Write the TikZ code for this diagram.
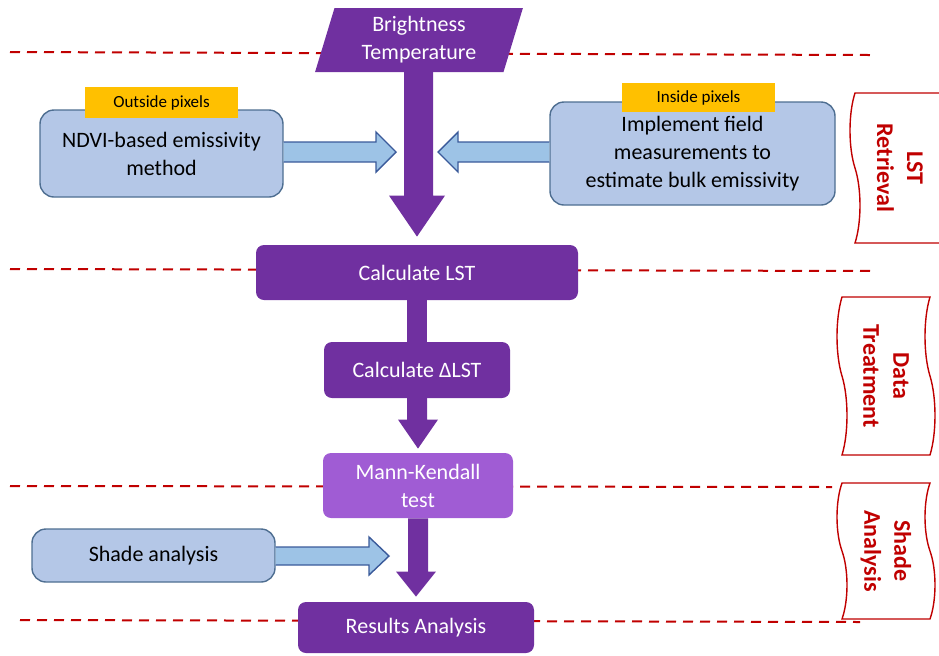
\documentclass[tikz,border=0pt]{standalone}
\usepackage{fontspec}
\setmainfont{Carlito}
\usetikzlibrary{shapes.geometric,shapes.symbols,calc}

\definecolor{lstpurple}{HTML}{7030A0}
\definecolor{mkpurple}{HTML}{A05CD4}
\definecolor{boxblue}{HTML}{B4C7E7}
\definecolor{boxedge}{HTML}{4E6E91}
\definecolor{arrowblue}{HTML}{9DC3E6}
\definecolor{arrowedge}{HTML}{3A5A9A}
\definecolor{tagorange}{HTML}{FFC000}
\definecolor{sepred}{HTML}{C00000}

\begin{document}
\begin{tikzpicture}[x=0.5pt, y=-0.5pt,
purple_box/.style={rectangle, rounded corners=4pt, fill=lstpurple, text=white, inner sep=2pt, align=center, font=\fontsize{11}{14}\selectfont},
blue_box/.style={rectangle, rounded corners=7pt, draw=boxedge, line width=0.7pt, fill=boxblue, inner sep=2pt, align=center, font=\fontsize{11}{14}\selectfont},
tag_box/.style={rectangle, fill=tagorange, inner sep=1pt, font=\fontsize{8.5}{10}\selectfont},
side_tape/.style={tape, tape bend top=in and out, tape bend bottom=in and out, tape bend height=5pt, draw=sepred, line width=0.7pt, fill=white, text=sepred, rotate=-90, align=center, font=\fontsize{12}{15}\selectfont\bfseries},
separator/.style={sepred, line width=1pt, dash pattern=on 5pt off 3.5pt},
purple_arrow/.style={fill=lstpurple},
blue_arrow/.style={fill=arrowblue, draw=arrowedge, line width=0.7pt, line join=miter}
]

\clip (0,0) rectangle (939,655);

% separators
\draw[separator] (10,52) -- (870,55);
\draw[separator] (10,269) -- (875,271);
\draw[separator] (10,486) -- (832,487);
\draw[separator] (20,620) -- (860,622);

% side labels
\node[side_tape, minimum width=75pt, minimum height=50pt](retrieval) at (900,168) {LST\\Retrieval};
\node[side_tape, minimum width=79pt, minimum height=49pt](treatment) at (886,376) {Data\\Treatment};
\node[side_tape, minimum width=68pt, minimum height=49pt](shading) at (886,551) {Shade\\Analysis};

% main flow
\node[trapezium, trapezium left angle=75, trapezium right angle=105, trapezium stretches=true, minimum width=104pt, minimum height=32pt, fill=lstpurple, text=white, align=center, inner sep=1pt, font=\fontsize{11}{14}\selectfont](bt) at (419,40) {Brightness\\Temperature};

\node[blue_box, minimum width=121.5pt, minimum height=43.5pt](ndvi) at (161.5,153.5) {NDVI-based emissivity\\method};
\node[tag_box, minimum width=76.5pt, minimum height=15.5pt](outside) at (161.5,102.5) {Outside pixels};

\node[blue_box, minimum width=142.5pt, minimum height=51.5pt](field) at (692.5,153.5) {Implement field\\measurements to\\estimate bulk emissivity};
\node[tag_box, minimum width=76.5pt, minimum height=14.5pt](inside) at (698.5,97.5) {Inside pixels};

\node[purple_box, minimum width=161pt, minimum height=27.5pt](lst) at (417,272.5) {Calculate LST};
\node[purple_box, minimum width=93pt, minimum height=28pt](dlst) at (417,370) {Calculate ΔLST};
\node[purple_box, fill=mkpurple, minimum width=95pt, minimum height=32.5pt](mk) at (418,485.5) {Mann-Kendall\\test};
\node[purple_box, minimum width=118pt, minimum height=25.5pt](res) at (416,627.5) {Results Analysis};

\node[blue_box, minimum width=121.5pt, minimum height=26.5pt](shade) at (153.5,555.5) {Shade analysis};

% block arrows
\coordinate (ndvitip) at (396,152);
\coordinate (fieldtip) at (438,152);
\coordinate (shadetip) at (389,556);

\fill[purple_arrow] ($(bt.south)+(-15,-3)$) |- ($(lst.north)+(-28,-49)$) -- ($(lst.north)+(0,-8)$) -- ($(lst.north)+(28,-49)$) -| ($(bt.south)+(14,-3)$) -- cycle;
\fill[purple_arrow] ($(lst.south)+(-10,-2)$) rectangle ($(dlst.north)+(10,2)$);
\fill[purple_arrow] ($(dlst.south)+(-10,-2)$) |- ($(mk.north)+(-20,-33)$) -- ($(mk.north)+(0,-4)$) -- ($(mk.north)+(20,-33)$) -| ($(dlst.south)+(10,-2)$) -- cycle;
\fill[purple_arrow] (mk.south) ++(-10,0) |- ($(res.north)+(-20,-30)$) -- ($(res.north)+(0,-5)$) -- ($(res.north)+(20,-30)$) -| ($(mk.south)+(10,0)$) -- cycle;

\draw[blue_arrow] (ndvi.east |- ndvitip) ++(0,-10) -- ($(ndvitip)+(-20,-10)$) -- ($(ndvitip)+(-20,-20)$) -- (ndvitip) -- ($(ndvitip)+(-20,20)$) -- ($(ndvitip)+(-20,10)$) -- ($(ndvi.east |- ndvitip)+(0,10)$);
\draw[blue_arrow] (field.west |- fieldtip) ++(0,-10) -- ($(fieldtip)+(20,-10)$) -- ($(fieldtip)+(20,-20)$) -- (fieldtip) -- ($(fieldtip)+(20,20)$) -- ($(fieldtip)+(20,10)$) -- ($(field.west |- fieldtip)+(0,10)$);
\draw[blue_arrow] (shade.east |- shadetip) ++(0,-9) -- ($(shadetip)+(-20,-9)$) -- ($(shadetip)+(-20,-19)$) -- (shadetip) -- ($(shadetip)+(-20,19)$) -- ($(shadetip)+(-20,9)$) -- ($(shade.east |- shadetip)+(0,9)$);
\end{tikzpicture}
\end{document}
